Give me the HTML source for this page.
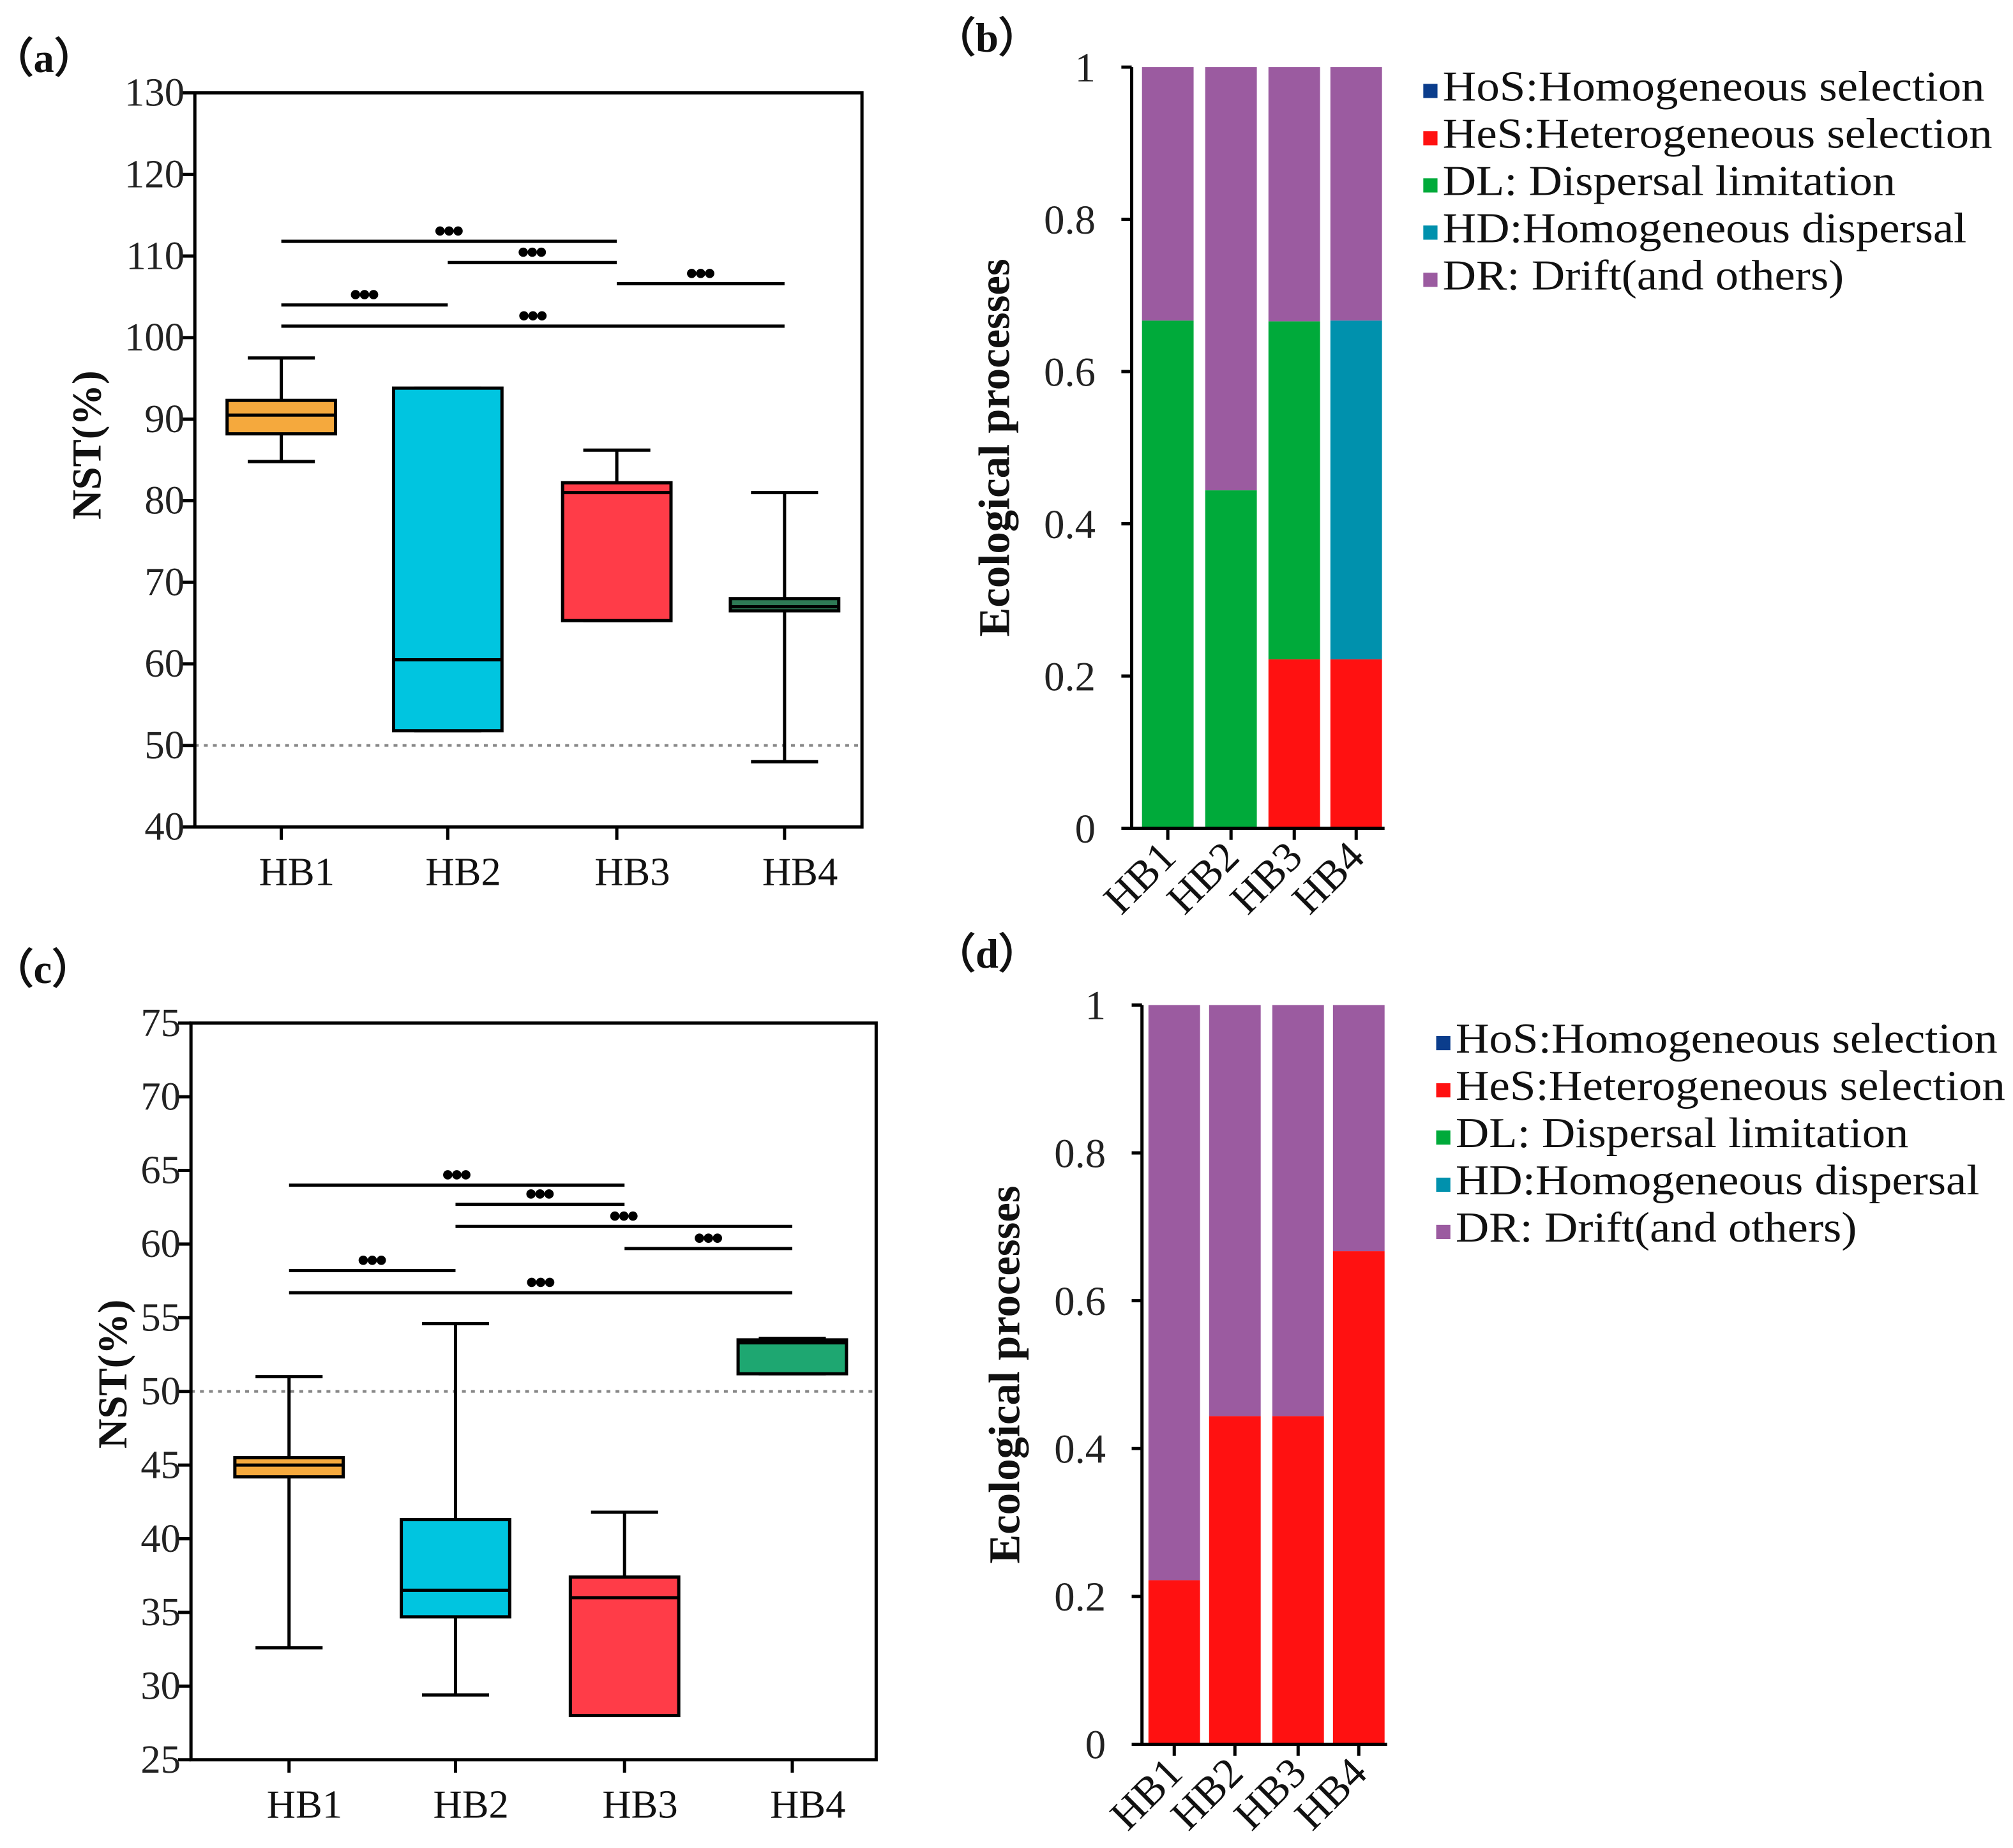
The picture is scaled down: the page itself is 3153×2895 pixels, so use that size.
<!DOCTYPE html>
<html><head><meta charset="utf-8"><style>
html,body{margin:0;padding:0;background:#fff;}
svg{display:block;font-family:"Liberation Serif","Times New Roman",serif;}
</style></head><body>
<svg id="fig" xmlns="http://www.w3.org/2000/svg" width="3153" height="2895" viewBox="0 0 1560 1432.4" preserveAspectRatio="none" font-family="Liberation Serif, serif">
<rect width="1560" height="1432.4" fill="#fff"/>
</svg>
<script>
// ---------- data ----------
const categories = ["HB1","HB2","HB3","HB4"];
// panel a box stats: [min, q1, median, q3, max]
const boxA = [[84.8,88.2,90.5,92.3,97.5],[51.8,51.8,60.5,93.8,93.8],[65.3,65.3,81,82.2,86.2],[48,66.5,67,68,81]];
const sigA = [[0,2,111.8],[1,2,109.2],[2,3,106.6],[0,1,104],[0,3,101.4]];
const ticksA = [40,50,60,70,80,90,100,110,120,130];
const boxC = [[32.6,44.2,45,45.5,51],[29.4,34.7,36.5,41.3,54.6],[28,28,36,37.4,41.8],[51.2,51.2,53.3,53.5,53.6]];
const sigC = [[0,2,64],[1,2,62.7],[1,3,61.2],[2,3,59.7],[0,1,58.2],[0,3,56.7]];
const ticksC = [25,30,35,40,45,50,55,60,65,70,75];
const processes = ["HoS:Homogeneous selection","HeS:Heterogeneous selection","DL: Dispersal limitation","HD:Homogeneous dispersal","DR: Drift(and others)"];
const hosB = [0,0,0,0];
const hesB = [0,0,0.222,0.222];
const dlB  = [0.667,0.444,0.444,0];
const hdB  = [0,0,0,0.445];
const drB  = [0.333,0.556,0.334,0.333];
const hosD = [0,0,0,0];
const hesD = [0.222,0.444,0.444,0.667];
const dlD  = [0,0,0,0];
const hdD  = [0,0,0,0];
const drD  = [0.778,0.556,0.556,0.333];
const ticksP = [0,0.2,0.4,0.6,0.8,1];
const tickLabelsP = ["0","0.2","0.4","0.6","0.8","1"];

// ---------- helpers ----------
const svg = document.getElementById('fig');
const NS = "http://www.w3.org/2000/svg";
const legendLens = [422,428,353,408,313];
function mk(tag, attrs, parent){
  const e = document.createElementNS(NS, tag);
  for (const k in attrs) e.setAttribute(k, attrs[k]);
  (parent||svg).appendChild(e);
  return e;
}
function txt(s, attrs, parent){ const e = mk('text', attrs, parent); e.setAttribute('font-family','Liberation Serif, Times New Roman, serif'); e.textContent = s; return e; }

function boxPanel(g, L, R, T, B, ymin, ymax, ticks, boxes, sigs, xs, colors){
  const y = v => B - (v - ymin) / (ymax - ymin) * (B - T);
  const dl = mk('line',{x1:L,x2:R,y1:y(50),y2:y(50),stroke:'#888','stroke-width':2,'stroke-dasharray':'3,4'},g);
  
  
  const fr = mk('rect',{x:L,y:T,width:R-L,height:B-T,fill:'none',stroke:'#000','stroke-width':2.5},g);
  
  
  ticks.forEach(t=>{
    mk('line',{x1:L-10,x2:L,y1:y(t),y2:y(t),stroke:'#000','stroke-width':2.5},g);
    const tl = txt(String(t),{x:L-8,y:y(t)+10,'font-size':31,'text-anchor':'end',fill:'#222'},g);
    
    
  });
  const bw = 84;
  boxes.forEach((b,i)=>{
    const cx = xs[i];
    mk('line',{x1:cx,x2:cx,y1:B,y2:B+10,stroke:'#000','stroke-width':2.5},g);
    const xl = txt(categories[i],{x:cx+12,y:B+45,'font-size':31,'text-anchor':'middle',fill:'#111'},g);
    
    
    const grp = mk('g',{},g);
    
    
    mk('line',{x1:cx,x2:cx,y1:y(b[0]),y2:y(b[4]),stroke:'#000','stroke-width':2.5},grp);
    mk('line',{x1:cx-26,x2:cx+26,y1:y(b[0]),y2:y(b[0]),stroke:'#000','stroke-width':2.5},grp);
    mk('line',{x1:cx-26,x2:cx+26,y1:y(b[4]),y2:y(b[4]),stroke:'#000','stroke-width':2.5},grp);
    mk('rect',{x:cx-bw/2,y:y(b[3]),width:bw,height:Math.max(1,y(b[1])-y(b[3])),fill:colors[i],stroke:'#000','stroke-width':2.5},grp);
    mk('line',{x1:cx-bw/2,x2:cx+bw/2,y1:y(b[2]),y2:y(b[2]),stroke:'#000','stroke-width':2.5},grp);
  });
  sigs.forEach(s=>{
    const x1 = xs[s[0]], x2 = xs[s[1]], yy = y(s[2]);
    const sg = mk('g',{},g);
    
    
    mk('line',{x1:x1,x2:x2,y1:yy,y2:yy,stroke:'#000','stroke-width':2.5},sg);
    const mx = (x1+x2)/2;
    [-7,0,7].forEach(d=>mk('circle',{cx:mx+d,cy:yy-8,r:3.6,fill:'#000'},sg));
  });
  return y;
}

function barPanel(g, L, T, B, xs, series, legendX, legendY){
  const y = v => B - v * (B - T);
  const cols = ['#0B3D8C','#FF1111','#00AA3A','#0091AD','#9B5BA0'];
  const bw = 40;
  xs.forEach((cx,i)=>{
    let acc = 0;
    series.forEach((s,k)=>{
      if (s[i] > 0){
        const r = mk('rect',{x:cx-bw/2,y:y(acc+s[i]),width:bw,height:y(acc)-y(acc+s[i]),fill:cols[k]},g);
        
        
      }
      acc += s[i];
    });
    mk('line',{x1:cx,x2:cx,y1:B,y2:B+9,stroke:'#000','stroke-width':2.5},g);
    const xl = txt(categories[i],{x:cx+8,y:B+24,'font-size':33,'text-anchor':'end',fill:'#111',transform:`rotate(-45 ${cx+8} ${B+24})`},g);
    
    
  });
  const R = xs[xs.length-1] + bw/2 + 2;
  mk('line',{x1:L,x2:L,y1:T,y2:B,stroke:'#000','stroke-width':2.5},g);
  mk('line',{x1:L-6,x2:R,y1:B,y2:B,stroke:'#000','stroke-width':2.5},g);
  ticksP.forEach((t,i)=>{
    mk('line',{x1:L-8,x2:L,y1:y(t),y2:y(t),stroke:'#000','stroke-width':2.5},g);
    const tl = txt(tickLabelsP[i],{x:L-28,y:y(t)+11,'font-size':32,'text-anchor':'end',fill:'#222'},g);
    
    
  });
  const yt = txt('Ecological processes',{x:0,y:0,'font-size':34,'font-weight':'bold','text-anchor':'middle',fill:'#111',transform:`translate(${L-95} ${(T+B)/2}) rotate(-90)`},g);
  
  
  processes.forEach((p,k)=>{
    const le = mk('g',{},g);
    
    
    const ly = legendY + k*36.6;
    mk('rect',{x:legendX,y:ly-8,width:11,height:11,fill:cols[k]},le);
    txt(p,{x:legendX+15,y:ly+5,'font-size':33,fill:'#111',textLength:legendLens[k]-2,lengthAdjust:'spacingAndGlyphs'},le);
  });
}

// ---------- panel a ----------
const ga = mk('g',{});  
txt('（a）',{x:-6,y:56,'font-size':32,'font-weight':'bold',fill:'#111'},ga);
boxPanel(ga,151,668,72,641,40,130,ticksA,boxA,sigA,[218,347,478,608],
  ['#F5A93D','#00C5E0','#FF3C48','#2E7A55']);
const yta = txt('NST(%)',{x:0,y:0,'font-size':32,'font-weight':'bold','text-anchor':'middle',fill:'#111',transform:'translate(78 345) rotate(-90)'},ga);
 

// ---------- panel c ----------
const gc = mk('g',{});  
txt('（c）',{x:-6,y:762,'font-size':32,'font-weight':'bold',fill:'#111'},gc);
boxPanel(gc,148,679,793,1364,25,75,ticksC,boxC,sigC,[224,353,484,614],
  ['#F5A93D','#00C5E0','#FF3C48','#1EA771']);
const ytc = txt('NST(%)',{x:0,y:0,'font-size':32,'font-weight':'bold','text-anchor':'middle',fill:'#111',transform:'translate(98 1065) rotate(-90)'},gc);
 

// ---------- panel b ----------
const gb = mk('g',{});  
txt('（b）',{x:724,y:40,'font-size':32,'font-weight':'bold',fill:'#111'},gb);
barPanel(gb,877,52,642,[905,954,1003,1051],[hosB,hesB,dlB,hdB,drB],1103,73);

// ---------- panel d ----------
const gd = mk('g',{});  
txt('（d）',{x:724,y:750,'font-size':32,'font-weight':'bold',fill:'#111'},gd);
barPanel(gd,885,779,1352,[910,957,1006,1053],[hosD,hesD,dlD,hdD,drD],1113,811);
</script>
</body></html>
